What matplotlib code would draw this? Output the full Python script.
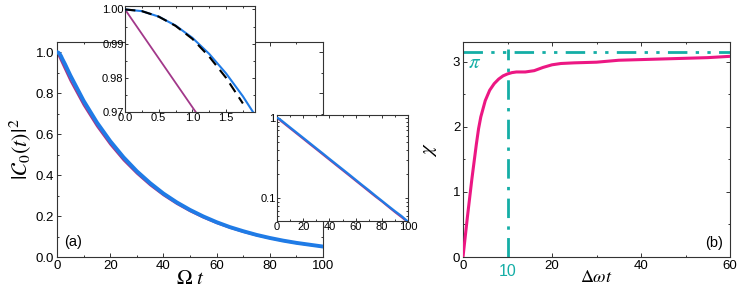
import matplotlib
matplotlib.use("Agg")
import matplotlib.pyplot as plt
from matplotlib.ticker import MultipleLocator, FixedLocator, NullFormatter

plt.rcParams['font.family'] = ['Liberation Sans', 'DejaVu Sans']
plt.rcParams['mathtext.fontset'] = 'stix'

# ---------------- data: panel (a) ----------------
t_main = [0, 5, 10, 15, 20, 25, 30, 35, 40, 45, 50, 55, 60, 65, 70, 75, 80, 85, 90, 95, 100]
purple_main = [1.000, 0.861, 0.741, 0.638, 0.549, 0.472, 0.407, 0.350, 0.301, 0.259,
               0.223, 0.192, 0.165, 0.142, 0.122, 0.105, 0.091, 0.078, 0.067, 0.058, 0.050]
t_blue = [0, 0.5, 1, 1.5, 2, 3, 5, 10, 15, 20, 25, 30, 35, 40, 45, 50, 55, 60, 65, 70, 75,
          80, 85, 90, 95, 100]
blue_main = [1.000, 0.998, 0.992, 0.981, 0.967, 0.942, 0.887, 0.763, 0.657, 0.566, 0.487,
             0.419, 0.361, 0.310, 0.267, 0.230, 0.198, 0.170, 0.146, 0.126, 0.108, 0.093,
             0.080, 0.069, 0.060, 0.051]

# inset (short times)
t_in = [0, 0.25, 0.5, 0.75, 1.0, 1.25, 1.5, 1.75, 1.9]
blue_in = [1.0, 0.9995, 0.9979, 0.9953, 0.9917, 0.9870, 0.9813, 0.9746, 0.9700]
t_black = [0, 0.25, 0.5, 0.75, 1.0, 1.25, 1.5, 1.75]
black_in = [1.0, 0.9995, 0.9979, 0.9952, 0.9914, 0.9862, 0.9800, 0.9725]
t_purple_in = [0, 1.05]
purple_in = [1.0, 0.970]

# ---------------- data: panel (b) ----------------
t_b = [0, 1, 2, 3, 3.5, 4, 5, 6, 7, 8, 9, 10, 11, 12, 14, 16, 18, 20, 22,
       25, 30, 35, 40, 45, 50, 55, 60]
chi_b = [0, 0.62, 1.20, 1.73, 1.97, 2.15, 2.40, 2.56, 2.66, 2.73, 2.78,
         2.81, 2.83, 2.84, 2.84, 2.86, 2.91, 2.95, 2.97, 2.98, 2.99, 3.02, 3.03, 3.04,
         3.05, 3.06, 3.08]
pi_val = 3.14159
t_mark = 10

BLUE = '#1f7be6'
PURPLE = '#a2388a'
PINK = '#ec1783'
TEAL = '#14aea6'
SPINE = '#333333'

fig = plt.figure(figsize=(7.48, 2.88), dpi=100)


def style(ax, size=7.5, major=2.6, minor=1.5):
    ax.tick_params(which='both', direction='in', top=True, right=True,
                   labelsize=size, colors=SPINE, labelcolor='black', width=0.7)
    ax.tick_params(which='major', length=major, pad=2)
    ax.tick_params(which='minor', length=minor)
    for s in ax.spines.values():
        s.set_linewidth(0.8)
        s.set_color(SPINE)


# ---- main (a)
ax = fig.add_axes([57/748, 31/288, 266/748, 215/288])
ax.plot(t_main, purple_main, color=PURPLE, lw=1.3, zorder=2)
ax.plot(t_blue, blue_main, color=BLUE, lw=2.8, zorder=3)
ax.set_xlim(0, 100)
ax.set_ylim(0, 1.05)
ax.xaxis.set_major_locator(MultipleLocator(20))
ax.xaxis.set_minor_locator(MultipleLocator(10))
ax.yaxis.set_major_locator(MultipleLocator(0.2))
ax.yaxis.set_minor_locator(MultipleLocator(0.1))
ax.yaxis.set_major_formatter(matplotlib.ticker.FormatStrFormatter('%.1f'))
style(ax, size=9.5)
ax.set_xlabel(r'$\Omega\ t$', fontsize=15, labelpad=-2)
ax.set_ylabel(r'$|\mathcal{C}_0(t)|^2$', fontsize=16, labelpad=2)
ax.text(2.5, 0.075, '(a)', fontsize=10.5, ha='left', va='center')

# ---- inset 1
ai = fig.add_axes([125/748, 176/288, 130/748, 106/288])
ai.plot(t_purple_in, purple_in, color=PURPLE, lw=1.3, zorder=2)
ai.plot(t_in, blue_in, color=BLUE, lw=1.5, zorder=3)
ai.plot(t_black, black_in, color='black', lw=1.5, ls=(0, (5, 3)), zorder=4)
ai.set_xlim(0, 1.93)
ai.set_ylim(0.97, 1.001)
ai.xaxis.set_major_locator(MultipleLocator(0.5))
ai.xaxis.set_minor_locator(MultipleLocator(0.25))
ai.yaxis.set_major_locator(MultipleLocator(0.01))
ai.yaxis.set_minor_locator(MultipleLocator(0.005))
ai.xaxis.set_major_formatter(matplotlib.ticker.FormatStrFormatter('%.1f'))
ai.yaxis.set_major_formatter(matplotlib.ticker.FormatStrFormatter('%.2f'))
style(ai, size=8, major=2.2, minor=1.2)
ai.tick_params(pad=1)

# ---- inset 2 (log)
al = fig.add_axes([277/748, 67/288, 131/748, 106/288])
al.plot(t_main, purple_main, color=PURPLE, lw=1.3, zorder=2)
al.plot(t_blue, blue_main, color=BLUE, lw=1.6, zorder=3)
al.set_yscale('log')
al.set_xlim(0, 100)
al.set_ylim(0.052, 1.09)
al.xaxis.set_major_locator(MultipleLocator(20))
al.xaxis.set_minor_locator(MultipleLocator(10))
al.yaxis.set_major_locator(FixedLocator([0.1, 1]))
al.yaxis.set_major_formatter(matplotlib.ticker.FixedFormatter(['0.1', '1']))
al.yaxis.set_minor_formatter(NullFormatter())
style(al, size=8, major=2.2, minor=1.2)
al.tick_params(pad=1)

# ---- panel (b)
bx = fig.add_axes([463/748, 31/288, 267/748, 215/288])
bx.axhline(pi_val, color=TEAL, lw=2, ls=(0, (7, 3, 1.2, 3, 1.2, 3)), zorder=2)
bx.plot([t_mark, t_mark], [0, 3.2], color=TEAL, lw=2, ls=(0, (7, 3, 1.2, 3)), zorder=2)
bx.plot(t_b, chi_b, color=PINK, lw=2.2, zorder=3)
bx.set_xlim(0, 60)
bx.set_ylim(0, 3.3)
bx.xaxis.set_major_locator(MultipleLocator(20))
bx.xaxis.set_minor_locator(MultipleLocator(10))
bx.yaxis.set_major_locator(MultipleLocator(1))
bx.yaxis.set_minor_locator(MultipleLocator(0.5))
style(bx, size=9.5)
bx.set_xlabel(r'$\Delta\omega t$', fontsize=13, labelpad=-2)
bx.set_ylabel(r'$\chi$', fontsize=15, labelpad=10)
bx.text(54.3, 0.21, '(b)', fontsize=10.5, ha='left', va='center')
bx.text(1.2, 2.99, r'$\pi$', fontsize=15, color=TEAL, ha='left', va='center')
bx.text(t_mark, -0.1, '10', fontsize=11.5, color=TEAL, ha='center', va='top')

fig.savefig('out.png', dpi=100)
